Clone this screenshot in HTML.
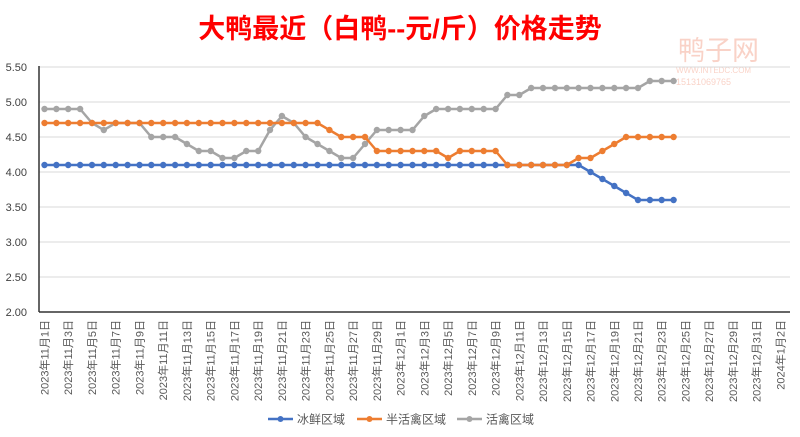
<!DOCTYPE html>
<html><head><meta charset="utf-8"><style>
body{margin:0;background:#fff}
svg{display:block;font-family:"Liberation Sans","Noto Sans CJK SC",sans-serif}
</style></head><body>
<svg id="c" width="800" height="437" viewBox="0 0 800 437" xmlns="http://www.w3.org/2000/svg">
<rect width="800" height="437" fill="#fff"/>
<text x="400" y="38" text-anchor="middle" font-size="27" font-weight="bold" fill="#ff0000">大鸭最近（白鸭--元/斤）价格走势</text>
<g opacity="0.35">
<text x="678" y="60" font-size="27" fill="#f08060">鸭子网</text>
<text x="676" y="73" font-size="8" fill="#f08060">WWW.INTEDC.COM</text>
<text x="676" y="85" font-size="9" fill="#f08060">15131069765</text>
</g>
<g id="g"></g>
</svg>
<script>
var g=document.getElementById('g'),h='';
function Y(v){return 312-(v-2)*70}
function X(d){return 44.5+d*11.87}
for(var v=2;v<=5.51;v+=0.5){var y=Y(v);h+='<line x1="39" x2="790" y1="'+y+'" y2="'+y+'" stroke="#d9d9d9" stroke-width="1"/>';
h+='<text x="27" y="'+(y+4)+'" text-anchor="end" font-size="11" fill="#404040">'+v.toFixed(2)+'</text>';}
h+='<line x1="39" x2="39" y1="66" y2="312" stroke="#333" stroke-width="1.5"/><line x1="39" x2="790" y1="312" y2="312" stroke="#333" stroke-width="1.5"/>';
var labs=[];for(var d=1;d<=30;d+=2)labs.push('2023年11月'+d+'日');for(var d=1;d<=31;d+=2)labs.push('2023年12月'+d+'日');labs.push('2024年1月2日');
labs.forEach(function(t,i){var x=X(i*2)+4;h+='<text transform="translate('+x+',320) rotate(-90)" text-anchor="end" font-size="11" fill="#595959">'+t+'</text>';});
function fill(spec){var a=[];spec.forEach(function(s){for(var i=0;i<s[0];i++)a.push(s[1]);});return a;}
var blue=fill([[46,4.1],[1,4.0],[1,3.9],[1,3.8],[1,3.7],[4,3.6]]);
var orange=fill([[24,4.7],[1,4.6],[3,4.5],[6,4.3],[1,4.2],[4,4.3],[6,4.1],[2,4.2],[1,4.3],[1,4.4],[5,4.5]]);
var gray=fill([[4,4.9],[1,4.7],[1,4.6],[3,4.7],[3,4.5],[1,4.4],[2,4.3],[2,4.2],[2,4.3],[1,4.6],[1,4.8],[1,4.7],[1,4.5],[1,4.4],[1,4.3],[2,4.2],[1,4.4],[4,4.6],[1,4.8],[6,4.9],[2,5.1],[10,5.2],[3,5.3]]);
function ser(a,c){var p=a.map(function(v,i){return X(i).toFixed(1)+','+Y(v).toFixed(1)}).join(' ');
h+='<polyline points="'+p+'" fill="none" stroke="'+c+'" stroke-width="2.5" stroke-linejoin="round"/>';
a.forEach(function(v,i){h+='<circle cx="'+X(i).toFixed(1)+'" cy="'+Y(v).toFixed(1)+'" r="3.2" fill="'+c+'"/>';});}
ser(blue,'#4472c4');ser(gray,'#a5a5a5');ser(orange,'#ed7d31');
[['#4472c4',268,'冰鲜区域'],['#ed7d31',357,'半活禽区域'],['#a5a5a5',457,'活禽区域']].forEach(function(l){
h+='<line x1="'+l[1]+'" x2="'+(l[1]+25)+'" y1="419" y2="419" stroke="'+l[0]+'" stroke-width="2.5"/><circle cx="'+(l[1]+12.5)+'" cy="419" r="3" fill="'+l[0]+'"/>';
h+='<text x="'+(l[1]+29)+'" y="423.5" font-size="12" fill="#595959">'+l[2]+'</text>';});
g.innerHTML=h;
</script>
</body></html>
